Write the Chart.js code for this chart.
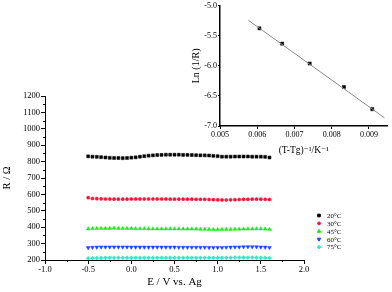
<!DOCTYPE html>
<html>
<head>
<meta charset="utf-8">
<script src="https://cdn.jsdelivr.net/npm/chart.js@4/dist/chart.umd.min.js"></script>
<style>
  html, body { margin: 0; padding: 0; background: #fff; }
  #wrap { position: relative; width: 392px; height: 292px; }
  #main { position: absolute; left: 0; top: 0; }
  #inset { position: absolute; left: 180px; top: 0; }
</style>
</head>
<body>
<div id="wrap">
  <canvas id="main" width="392" height="292"></canvas>
  <canvas id="inset" width="212" height="160"></canvas>
</div>
<script>
const potential = [
  -0.5, -0.45, -0.4, -0.35, -0.3, -0.25, -0.2, -0.15, -0.1, -0.05,
  0.0, 0.05, 0.1, 0.15, 0.2, 0.25, 0.3, 0.35, 0.4, 0.45,
  0.5, 0.55, 0.6, 0.65, 0.7, 0.75, 0.8, 0.85, 0.9, 0.95,
  1.0, 1.05, 1.1, 1.15, 1.2, 1.25, 1.3, 1.35, 1.4, 1.45,
  1.5, 1.55, 1.6
];
const r20 = [
  832, 830, 829, 827, 825, 823, 822, 822, 821, 822,
  824, 826, 830, 833, 836, 838, 840, 841, 842, 842,
  842, 842, 841, 841, 840, 839, 838, 838, 837, 835,
  833, 830, 830, 830, 831, 831, 831, 831, 830, 830,
  830, 829, 825
];
const r30 = [
  580, 575, 574, 573, 572, 572, 571, 571, 571, 571,
  572, 572, 572, 572, 572, 572, 572, 572, 572, 571,
  571, 571, 571, 571, 571, 570, 570, 570, 569, 568,
  567, 566, 566, 567, 568, 569, 570, 570, 571, 571,
  571, 570, 569
];
const r45 = [
  390, 391, 392, 393, 393, 393, 394, 393, 392, 392,
  392, 391, 391, 391, 390, 390, 390, 390, 390, 390,
  390, 390, 389, 389, 389, 389, 388, 388, 387, 386,
  386, 386, 387, 387, 388, 388, 389, 389, 389, 390,
  390, 389, 387
];
const r60 = [
  275, 277, 278, 279, 279, 279, 279, 279, 279, 279,
  278, 278, 278, 278, 278, 278, 278, 278, 278, 278,
  278, 277, 277, 277, 277, 277, 277, 277, 276, 276,
  276, 276, 277, 278, 279, 279, 280, 280, 280, 280,
  279, 278, 276
];
const r75 = [
  210, 211, 212, 212, 213, 213, 213, 213, 213, 213,
  213, 213, 213, 213, 213, 213, 213, 213, 213, 213,
  213, 213, 213, 213, 213, 213, 213, 213, 213, 213,
  213, 213, 214, 214, 215, 215, 215, 215, 215, 214,
  214, 213, 212
];
const seriesLabels = ["20°C", "30°C", "45°C", "60°C", "75°C"];

// inset: Ln(1/R) against (T-Tg)^-1
const invT = [0.00606, 0.00667, 0.00741, 0.00833, 0.00909];
const lnInvR = [-5.375, -5.63, -5.96, -6.35, -6.72];
const fitX = [0.00576, 0.00942];
const fitY = [-5.24, -6.865];

const serif = "'Liberation Serif', 'DejaVu Serif', serif";
const toPoints = (xs, ys) => xs.map((x, i) => ({ x: x, y: ys[i] }));

const styles = [
  { color: "#000000", pointStyle: "rect", radius: 2.1, rotation: 0 },
  { color: "#ff1030", pointStyle: "circle", radius: 1.6, rotation: 0 },
  { color: "#10f010", pointStyle: "triangle", radius: 2.2, rotation: 0 },
  { color: "#2040ff", pointStyle: "triangle", radius: 2.2, rotation: 180 },
  { color: "#20f0c8", pointStyle: "rectRot", radius: 2.0, rotation: 0 },
];
const allSeries = [r20, r30, r45, r60, r75];

// legend + minor ticks for the main plot
const mainExtras = {
  id: "mainExtras",
  afterDraw(chart) {
    const ctx = chart.ctx;
    const xs = chart.scales.x, ys = chart.scales.y;
    ctx.save();
    ctx.strokeStyle = "#000";
    ctx.lineWidth = 1;
    ctx.beginPath();
    for (let v = 250; v < 1200; v += 100) {
      const py = Math.round(ys.getPixelForValue(v)) + 0.5;
      ctx.moveTo(xs.left - 2, py);
      ctx.lineTo(xs.left, py);
    }
    for (let v = -0.75; v < 2; v += 0.5) {
      const px = Math.round(xs.getPixelForValue(v)) + 0.5;
      ctx.moveTo(px, ys.bottom);
      ctx.lineTo(px, ys.bottom + 2);
    }
    ctx.stroke();

    ctx.font = "7px " + serif;
    ctx.textBaseline = "middle";
    seriesLabels.forEach((label, i) => {
      const y = 215.5 + i * 7.9;
      const s = styles[i];
      ctx.fillStyle = s.color;
      ctx.strokeStyle = s.color;
      Chart.helpers.drawPoint(ctx, { pointStyle: s.pointStyle, radius: s.radius * 0.9, rotation: s.rotation, borderWidth: 0.5 }, 319, y);
      ctx.fillStyle = "#000";
      ctx.fillText(label, 327, y + 0.5);
    });
    ctx.restore();
  }
};

const mainChart = new Chart(document.getElementById("main"), {
  type: "scatter",
  data: {
    datasets: allSeries.map((vals, i) => ({
      label: seriesLabels[i],
      data: toPoints(potential, vals),
      showLine: false,
      pointStyle: styles[i].pointStyle,
      pointRotation: styles[i].rotation,
      pointRadius: styles[i].radius,
      pointBackgroundColor: styles[i].color,
      pointBorderColor: styles[i].color,
      pointBorderWidth: 0.5,
    })),
  },
  options: {
    responsive: false,
    animation: false,
    layout: { padding: { top: 96, right: 88, left: 0, bottom: 0 } },
    plugins: { legend: { display: false }, tooltip: { enabled: false } },
    scales: {
      x: {
        type: "linear",
        min: -1, max: 2,
        afterFit: (s) => { s.height = 32; },
        border: { display: true, color: "#000", width: 1 },
        grid: { drawOnChartArea: false, drawTicks: true, tickLength: 4, color: "#000" },
        ticks: {
          stepSize: 0.5, padding: 1, color: "#000",
          font: { family: serif, size: 8.5 },
          callback: (v) => Number(v).toFixed(1),
          maxRotation: 0,
        },
        title: { display: true, text: "E / V vs. Ag", color: "#000", font: { family: serif, size: 11 }, padding: { top: 0, bottom: 3 } },
      },
      y: {
        min: 200, max: 1200,
        afterFit: (s) => { s.width = 45; },
        border: { display: true, color: "#000", width: 1 },
        grid: { drawOnChartArea: false, drawTicks: true, tickLength: 4, color: "#000" },
        ticks: {
          stepSize: 100, padding: 1, color: "#000",
          font: { family: serif, size: 8.5 },
          callback: (v) => String(v),
        },
        title: { display: true, text: "R / Ω", color: "#000", font: { family: serif, size: 10.5 }, padding: { top: 1, bottom: 0 } },
      },
    },
  },
  plugins: [mainExtras],
});

const insetChart = new Chart(document.getElementById("inset"), {
  type: "scatter",
  data: {
    datasets: [
      {
        label: "fit",
        data: toPoints(fitX, fitY),
        showLine: true,
        borderColor: "#8a8a8a",
        borderWidth: 1,
        pointRadius: 0,
      },
      {
        label: "Ln (1/R)",
        data: toPoints(invT, lnInvR),
        showLine: false,
        pointStyle: "rect",
        pointRadius: 2.2,
        pointBackgroundColor: "#000",
        pointBorderColor: "#000",
        pointBorderWidth: 0.5,
      },
    ],
  },
  options: {
    responsive: false,
    animation: false,
    layout: { padding: { top: 5, right: 2, left: 0, bottom: 0 } },
    plugins: { legend: { display: false }, tooltip: { enabled: false } },
    scales: {
      x: {
        type: "linear",
        min: 0.005, max: 0.0095,
        afterFit: (s) => { s.height = 34; },
        border: { display: true, color: "#000", width: 1.5 },
        grid: { drawOnChartArea: false, drawTicks: true, tickLength: 3, color: "#000" },
        ticks: {
          stepSize: 0.001, includeBounds: false, padding: 1, color: "#000",
          font: { family: serif, size: 8 },
          callback: (v) => Number(v).toFixed(3),
          maxRotation: 0,
        },
        title: { display: true, text: "(T-Tg)⁻¹/K⁻¹", color: "#000", font: { family: serif, size: 9.5 }, padding: { top: 0, bottom: 4 } },
      },
      y: {
        min: -7, max: -5,
        afterFit: (s) => { s.width = 40; },
        border: { display: true, color: "#000", width: 1.5 },
        grid: { drawOnChartArea: false, drawTicks: true, tickLength: 2, color: "#000" },
        ticks: {
          stepSize: 0.5, padding: 1, color: "#000",
          font: { family: serif, size: 8 },
          callback: (v) => Number(v).toFixed(1),
        },
        title: { display: true, text: "Ln (1/R)", color: "#000", font: { family: serif, size: 10 }, padding: { top: 10, bottom: 0 } },
      },
    },
  },
});
</script>
</body>
</html>
